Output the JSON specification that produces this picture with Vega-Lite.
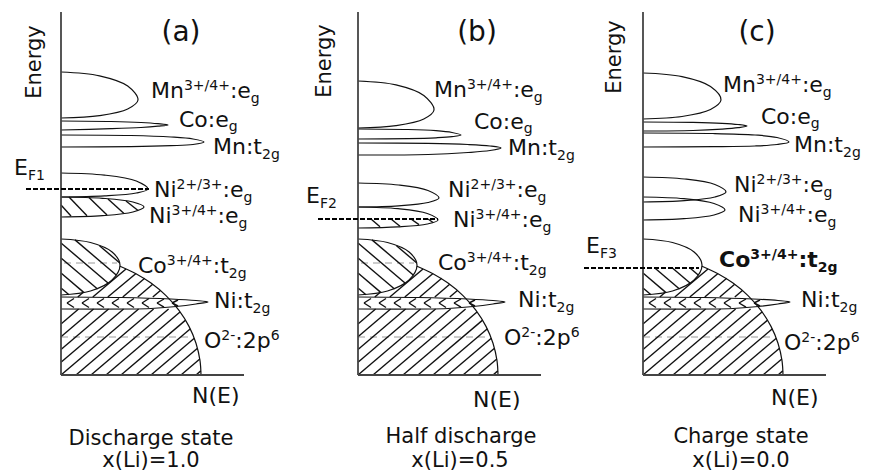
{
"$schema": "https://vega.github.io/schema/vega-lite/v6.json",
"padding": 0,
"autosize": {"type": "pad"},
"background": "white",
"config": {"view": {"stroke": null}, "text": {"font": "DejaVu Sans", "color": "#111"}},
"data": {"values": [
{"p":["a"],"k":"Z","n":-60,"e":0},{"p":["a"],"k":"Z","n":230,"e":0},
{"p":["b"],"k":"Z","n":-67,"e":0},{"p":["b"],"k":"Z","n":223,"e":0},
{"p":["c"],"k":"Z","n":-62,"e":0},{"p":["c"],"k":"Z","n":228,"e":0},

{"p":["a","b","c"],"k":"A","n":0,"e":0,"n2":0,"e2":363},
{"p":["a","b","c"],"k":"A","n":0,"e":0,"n2":183,"e2":0},

{"p":["a"],"k":"L","id":"mn","o":1,"n":0,"e":303},{"p":["a"],"k":"L","id":"mn","o":2,"n":38.5,"e":299.2},{"p":["a"],"k":"L","id":"mn","o":3,"n":66.7,"e":289},{"p":["a"],"k":"L","id":"mn","o":4,"n":77,"e":275},{"p":["a"],"k":"L","id":"mn","o":5,"n":66.7,"e":266},{"p":["a"],"k":"L","id":"mn","o":6,"n":38.5,"e":259.4},{"p":["a"],"k":"L","id":"mn","o":7,"n":0,"e":257},
{"p":["a"],"k":"L","id":"coe","o":1,"n":0,"e":254},{"p":["a"],"k":"L","id":"coe","o":2,"n":50,"e":253.5},{"p":["a"],"k":"L","id":"coe","o":3,"n":80,"e":252.5},{"p":["a"],"k":"L","id":"coe","o":4,"n":97,"e":251.3},{"p":["a"],"k":"L","id":"coe","o":5,"n":107,"e":250},{"p":["a"],"k":"L","id":"coe","o":6,"n":97,"e":248.8},{"p":["a"],"k":"L","id":"coe","o":7,"n":80,"e":247.5},{"p":["a"],"k":"L","id":"coe","o":8,"n":50,"e":246.3},{"p":["a"],"k":"L","id":"coe","o":9,"n":0,"e":245},
{"p":["a"],"k":"L","id":"mnt","o":1,"n":0,"e":240},{"p":["a"],"k":"L","id":"mnt","o":2,"n":70,"e":239.5},{"p":["a"],"k":"L","id":"mnt","o":3,"n":110,"e":238},{"p":["a"],"k":"L","id":"mnt","o":4,"n":132,"e":236},{"p":["a"],"k":"L","id":"mnt","o":5,"n":143,"e":233},{"p":["a"],"k":"L","id":"mnt","o":6,"n":132,"e":230.5},{"p":["a"],"k":"L","id":"mnt","o":7,"n":110,"e":229.3},{"p":["a"],"k":"L","id":"mnt","o":8,"n":70,"e":228.3},{"p":["a"],"k":"L","id":"mnt","o":9,"n":0,"e":228},
{"p":["a"],"k":"L","id":"ni2","o":1,"n":0,"e":202},{"p":["a"],"k":"L","id":"ni2","o":2,"n":43.5,"e":199.9},{"p":["a"],"k":"L","id":"ni2","o":3,"n":75.3,"e":194},{"p":["a"],"k":"L","id":"ni2","o":4,"n":87,"e":186},{"p":["a"],"k":"L","id":"ni2","o":5,"n":75.3,"e":182},{"p":["a"],"k":"L","id":"ni2","o":6,"n":43.5,"e":179.1},{"p":["a"],"k":"L","id":"ni2","o":7,"n":0,"e":178},
{"p":["a"],"k":"L","id":"ni3","o":1,"n":0,"e":178},{"p":["a"],"k":"L","id":"ni3","o":2,"n":41.5,"e":176.7},{"p":["a"],"k":"L","id":"ni3","o":3,"n":71.9,"e":173},{"p":["a"],"k":"L","id":"ni3","o":4,"n":83,"e":168},{"p":["a"],"k":"L","id":"ni3","o":5,"n":71.9,"e":163},{"p":["a"],"k":"L","id":"ni3","o":6,"n":41.5,"e":159.3},{"p":["a"],"k":"L","id":"ni3","o":7,"n":0,"e":158},

{"p":["b"],"k":"L","id":"mn","o":1,"n":0,"e":294},{"p":["b"],"k":"L","id":"mn","o":2,"n":38,"e":290.1},{"p":["b"],"k":"L","id":"mn","o":3,"n":65.8,"e":279.5},{"p":["b"],"k":"L","id":"mn","o":4,"n":76,"e":265},{"p":["b"],"k":"L","id":"mn","o":5,"n":65.8,"e":256},{"p":["b"],"k":"L","id":"mn","o":6,"n":38,"e":249.4},{"p":["b"],"k":"L","id":"mn","o":7,"n":0,"e":247},
{"p":["b"],"k":"L","id":"coe","o":1,"n":0,"e":246},{"p":["b"],"k":"L","id":"coe","o":2,"n":50,"e":245.5},{"p":["b"],"k":"L","id":"coe","o":3,"n":78,"e":244.3},{"p":["b"],"k":"L","id":"coe","o":4,"n":94,"e":242.5},{"p":["b"],"k":"L","id":"coe","o":5,"n":103,"e":240},{"p":["b"],"k":"L","id":"coe","o":6,"n":94,"e":238.3},{"p":["b"],"k":"L","id":"coe","o":7,"n":78,"e":237.2},{"p":["b"],"k":"L","id":"coe","o":8,"n":50,"e":236.4},{"p":["b"],"k":"L","id":"coe","o":9,"n":0,"e":236},
{"p":["b"],"k":"L","id":"mnt","o":1,"n":0,"e":232},{"p":["b"],"k":"L","id":"mnt","o":2,"n":70,"e":231.6},{"p":["b"],"k":"L","id":"mnt","o":3,"n":110,"e":230.5},{"p":["b"],"k":"L","id":"mnt","o":4,"n":132,"e":229},{"p":["b"],"k":"L","id":"mnt","o":5,"n":143,"e":227},{"p":["b"],"k":"L","id":"mnt","o":6,"n":132,"e":224.5},{"p":["b"],"k":"L","id":"mnt","o":7,"n":110,"e":222.5},{"p":["b"],"k":"L","id":"mnt","o":8,"n":70,"e":220.5},{"p":["b"],"k":"L","id":"mnt","o":9,"n":0,"e":220},
{"p":["b"],"k":"L","id":"ni2","o":1,"n":0,"e":192},{"p":["b"],"k":"L","id":"ni2","o":2,"n":40.5,"e":190},{"p":["b"],"k":"L","id":"ni2","o":3,"n":70,"e":184.5},{"p":["b"],"k":"L","id":"ni2","o":4,"n":81,"e":177},{"p":["b"],"k":"L","id":"ni2","o":5,"n":70,"e":172.5},{"p":["b"],"k":"L","id":"ni2","o":6,"n":40.5,"e":169.2},{"p":["b"],"k":"L","id":"ni2","o":7,"n":0,"e":168},
{"p":["b"],"k":"L","id":"ni3","o":1,"n":0,"e":168},{"p":["b"],"k":"L","id":"ni3","o":2,"n":40,"e":166.3},{"p":["b"],"k":"L","id":"ni3","o":3,"n":69.3,"e":161.5},{"p":["b"],"k":"L","id":"ni3","o":4,"n":80,"e":155},{"p":["b"],"k":"L","id":"ni3","o":5,"n":69.3,"e":151},{"p":["b"],"k":"L","id":"ni3","o":6,"n":40,"e":148.1},{"p":["b"],"k":"L","id":"ni3","o":7,"n":0,"e":147},

{"p":["c"],"k":"L","id":"mn","o":1,"n":0,"e":302},{"p":["c"],"k":"L","id":"mn","o":2,"n":39,"e":298.4},{"p":["c"],"k":"L","id":"mn","o":3,"n":67.5,"e":288.5},{"p":["c"],"k":"L","id":"mn","o":4,"n":78,"e":275},{"p":["c"],"k":"L","id":"mn","o":5,"n":67.5,"e":265.5},{"p":["c"],"k":"L","id":"mn","o":6,"n":39,"e":258.5},{"p":["c"],"k":"L","id":"mn","o":7,"n":0,"e":256},
{"p":["c"],"k":"L","id":"coe","o":1,"n":0,"e":253},{"p":["c"],"k":"L","id":"coe","o":2,"n":50,"e":252.6},{"p":["c"],"k":"L","id":"coe","o":3,"n":79,"e":251.7},{"p":["c"],"k":"L","id":"coe","o":4,"n":95,"e":250.5},{"p":["c"],"k":"L","id":"coe","o":5,"n":104,"e":249},{"p":["c"],"k":"L","id":"coe","o":6,"n":95,"e":247.3},{"p":["c"],"k":"L","id":"coe","o":7,"n":79,"e":245.9},{"p":["c"],"k":"L","id":"coe","o":8,"n":50,"e":244.5},{"p":["c"],"k":"L","id":"coe","o":9,"n":0,"e":244},
{"p":["c"],"k":"L","id":"mnt","o":1,"n":0,"e":242},{"p":["c"],"k":"L","id":"mnt","o":2,"n":70,"e":241.5},{"p":["c"],"k":"L","id":"mnt","o":3,"n":112,"e":240},{"p":["c"],"k":"L","id":"mnt","o":4,"n":134,"e":237.5},{"p":["c"],"k":"L","id":"mnt","o":5,"n":146,"e":233},{"p":["c"],"k":"L","id":"mnt","o":6,"n":134,"e":230.5},{"p":["c"],"k":"L","id":"mnt","o":7,"n":112,"e":229},{"p":["c"],"k":"L","id":"mnt","o":8,"n":70,"e":228.3},{"p":["c"],"k":"L","id":"mnt","o":9,"n":0,"e":228},
{"p":["c"],"k":"L","id":"ni2","o":1,"n":0,"e":198},{"p":["c"],"k":"L","id":"ni2","o":2,"n":41.5,"e":196},{"p":["c"],"k":"L","id":"ni2","o":3,"n":71.9,"e":190.5},{"p":["c"],"k":"L","id":"ni2","o":4,"n":83,"e":183},{"p":["c"],"k":"L","id":"ni2","o":5,"n":71.9,"e":178},{"p":["c"],"k":"L","id":"ni2","o":6,"n":41.5,"e":174.3},{"p":["c"],"k":"L","id":"ni2","o":7,"n":0,"e":173},
{"p":["c"],"k":"L","id":"ni3","o":1,"n":0,"e":178},{"p":["c"],"k":"L","id":"ni3","o":2,"n":41,"e":176.3},{"p":["c"],"k":"L","id":"ni3","o":3,"n":71,"e":171.5},{"p":["c"],"k":"L","id":"ni3","o":4,"n":82,"e":165},{"p":["c"],"k":"L","id":"ni3","o":5,"n":71,"e":160},{"p":["c"],"k":"L","id":"ni3","o":6,"n":41,"e":156.3},{"p":["c"],"k":"L","id":"ni3","o":7,"n":0,"e":155},

{"p":["a","b","c"],"k":"L","id":"co","o":1,"n":0,"e":136},{"p":["a","b","c"],"k":"L","id":"co","o":2,"n":29.5,"e":132.5},{"p":["a","b","c"],"k":"L","id":"co","o":3,"n":51.1,"e":123},{"p":["a","b","c"],"k":"L","id":"co","o":4,"n":59,"e":110},{"p":["a","b","c"],"k":"L","id":"co","o":5,"n":51.1,"e":95},{"p":["a","b","c"],"k":"L","id":"co","o":6,"n":29.5,"e":84},{"p":["a","b","c"],"k":"L","id":"co","o":7,"n":0,"e":80},
{"p":["a","b","c"],"k":"L","id":"o2p","o":1,"n":59,"e":108.8},{"p":["a","b","c"],"k":"L","id":"o2p","o":2,"n":75,"e":101.3},{"p":["a","b","c"],"k":"L","id":"o2p","o":3,"n":90,"e":91.9},{"p":["a","b","c"],"k":"L","id":"o2p","o":4,"n":105,"e":79.4},{"p":["a","b","c"],"k":"L","id":"o2p","o":5,"n":118,"e":64.6},{"p":["a","b","c"],"k":"L","id":"o2p","o":6,"n":128,"e":48.6},{"p":["a","b","c"],"k":"L","id":"o2p","o":7,"n":135,"e":31.8},{"p":["a","b","c"],"k":"L","id":"o2p","o":8,"n":139,"e":14.3},{"p":["a","b","c"],"k":"L","id":"o2p","o":9,"n":140,"e":0},
{"p":["a","b","c"],"k":"L","id":"nit","o":1,"n":0,"e":78},{"p":["a","b","c"],"k":"L","id":"nit","o":2,"n":60,"e":77.5},{"p":["a","b","c"],"k":"L","id":"nit","o":3,"n":110,"e":76},{"p":["a","b","c"],"k":"L","id":"nit","o":4,"n":135,"e":74.5},{"p":["a","b","c"],"k":"L","id":"nit","o":5,"n":147,"e":73},{"p":["a","b","c"],"k":"L","id":"nit","o":6,"n":135,"e":71},{"p":["a","b","c"],"k":"L","id":"nit","o":7,"n":115,"e":68.5},{"p":["a","b","c"],"k":"L","id":"nit","o":8,"n":90,"e":66.5},{"p":["a","b","c"],"k":"L","id":"nit","o":9,"n":0,"e":66},

{"p":["a","b","c"],"k":"H","n":0,"e":51,"n2":17.6,"e2":66},{"p":["a","b","c"],"k":"H","n":0,"e":38.25,"n2":32.6,"e2":66},{"p":["a","b","c"],"k":"H","n":0,"e":25.5,"n2":47.6,"e2":66},{"p":["a","b","c"],"k":"H","n":0,"e":12.75,"n2":62.6,"e2":66},{"p":["a","b","c"],"k":"H","n":0,"e":0,"n2":77.6,"e2":66},{"p":["a","b","c"],"k":"H","n":15,"e":0,"n2":92.6,"e2":66},{"p":["a","b","c"],"k":"H","n":30,"e":0,"n2":107.6,"e2":66},{"p":["a","b","c"],"k":"H","n":45,"e":0,"n2":119,"e2":63},{"p":["a","b","c"],"k":"H","n":60,"e":0,"n2":124.6,"e2":54.9},{"p":["a","b","c"],"k":"H","n":75,"e":0,"n2":129.4,"e2":46.2},{"p":["a","b","c"],"k":"H","n":90,"e":0,"n2":133.3,"e2":36.8},{"p":["a","b","c"],"k":"H","n":105,"e":0,"n2":136.5,"e2":26.8},{"p":["a","b","c"],"k":"H","n":120,"e":0,"n2":138.8,"e2":16},{"p":["a","b","c"],"k":"H","n":135,"e":0,"n2":139.8,"e2":4.1},
{"p":["a","b","c"],"k":"H","n":16.8,"e":78,"n2":22,"e2":82.5},{"p":["a","b","c"],"k":"H","n":31.8,"e":78,"n2":65,"e2":106},{"p":["a","b","c"],"k":"H","n":46.8,"e":78,"n2":75,"e2":101.5},{"p":["a","b","c"],"k":"H","n":61.8,"e":78,"n2":83.7,"e2":96.7},{"p":["a","b","c"],"k":"H","n":76.8,"e":78,"n2":91.7,"e2":90.7},{"p":["a","b","c"],"k":"H","n":91.8,"e":78,"n2":99.4,"e2":84.5},
{"p":["a","b","c"],"k":"H","n":13,"e":76.5,"n2":6,"e2":72},{"p":["a","b","c"],"k":"H","n":6,"e":72,"n2":13,"e2":67.5},
{"p":["a","b","c"],"k":"H","n":28,"e":76.5,"n2":21,"e2":72},{"p":["a","b","c"],"k":"H","n":21,"e":72,"n2":28,"e2":67.5},
{"p":["a","b","c"],"k":"H","n":43,"e":76.5,"n2":36,"e2":72},{"p":["a","b","c"],"k":"H","n":36,"e":72,"n2":43,"e2":67.5},
{"p":["a","b","c"],"k":"H","n":58,"e":76.5,"n2":51,"e2":72},{"p":["a","b","c"],"k":"H","n":51,"e":72,"n2":58,"e2":67.5},
{"p":["a","b","c"],"k":"H","n":73,"e":76.5,"n2":66,"e2":72},{"p":["a","b","c"],"k":"H","n":66,"e":72,"n2":73,"e2":67.5},
{"p":["a","b","c"],"k":"H","n":88,"e":76.5,"n2":81,"e2":72},{"p":["a","b","c"],"k":"H","n":81,"e":72,"n2":88,"e2":67.5},
{"p":["a","b","c"],"k":"H","n":103,"e":76,"n2":96,"e2":72},{"p":["a","b","c"],"k":"H","n":96,"e":72,"n2":103,"e2":67.8},
{"p":["a","b","c"],"k":"H","n":117,"e":75,"n2":111,"e2":72},{"p":["a","b","c"],"k":"H","n":111,"e":72,"n2":117,"e2":69},

{"p":["a","b"],"k":"H","n":0,"e":87,"n2":8,"e2":80.3},{"p":["a","b"],"k":"H","n":0,"e":102,"n2":23,"e2":82.4},{"p":["a","b"],"k":"H","n":0,"e":117,"n2":36.5,"e2":86},{"p":["a","b"],"k":"H","n":0,"e":132,"n2":47,"e2":92},{"p":["a","b"],"k":"H","n":14,"e":135.1,"n2":55.5,"e2":99.8},{"p":["a","b"],"k":"H","n":38.5,"e":129.3,"n2":58.8,"e2":112},
{"p":["c"],"k":"H","n":0,"e":87,"n2":8,"e2":80.3},{"p":["c"],"k":"H","n":0,"e":102,"n2":23,"e2":82.4},{"p":["c"],"k":"H","n":11.8,"e":107,"n2":36.5,"e2":86},{"p":["c"],"k":"H","n":29.4,"e":107,"n2":47,"e2":92},{"p":["c"],"k":"H","n":47,"e":107,"n2":55.5,"e2":99.8},
{"p":["a"],"k":"H","n":0,"e":170,"n2":10,"e2":159},{"p":["a"],"k":"H","n":8,"e":178,"n2":26,"e2":159.3},{"p":["a"],"k":"H","n":28,"e":177.5,"n2":46,"e2":160},{"p":["a"],"k":"H","n":47,"e":176,"n2":63,"e2":161.5},{"p":["a"],"k":"H","n":65,"e":174,"n2":77,"e2":164.5},
{"p":["b"],"k":"H","n":13,"e":156,"n2":22,"e2":148.2},{"p":["b"],"k":"H","n":33,"e":156,"n2":42,"e2":148.8},{"p":["b"],"k":"H","n":53,"e":156,"n2":61,"e2":150.4},{"p":["b"],"k":"H","n":70,"e":156,"n2":75,"e2":152.5},

{"p":["a","b","c"],"k":"G","n":0,"e":38,"n2":128,"e2":38},{"p":["a","b"],"k":"G","n":3,"e":112,"n2":56,"e2":112},

{"p":["a"],"k":"D","n":-35,"e":186,"n2":88,"e2":186},
{"p":["b"],"k":"D","n":-40,"e":156,"n2":80,"e2":156},
{"p":["c"],"k":"D","n":-59,"e":107,"n2":56,"e2":107},

{"p":["a"],"k":"T","t":"Mn","n":90,"e":277},{"p":["a"],"k":"S","t":"3+/4+","n":122.9,"e":285},{"p":["a"],"k":"T","t":":e","n":168.9,"e":277},{"p":["a"],"k":"S","t":"g","n":189.8,"e":272},
{"p":["a"],"k":"T","t":"Co:e","n":118,"e":248},{"p":["a"],"k":"S","t":"g","n":167.7,"e":244},
{"p":["a"],"k":"T","t":"Mn:t","n":152,"e":221},{"p":["a"],"k":"S","t":"2g","n":201,"e":216},
{"p":["a"],"k":"T","t":"Ni","n":93,"e":178},{"p":["a"],"k":"S","t":"2+/3+","n":115.6,"e":186},{"p":["a"],"k":"T","t":":e","n":161.6,"e":178},{"p":["a"],"k":"S","t":"g","n":182.5,"e":173},
{"p":["a"],"k":"T","t":"Ni","n":88,"e":152},{"p":["a"],"k":"S","t":"3+/4+","n":110.6,"e":160},{"p":["a"],"k":"T","t":":e","n":156.6,"e":152},{"p":["a"],"k":"S","t":"g","n":177.5,"e":147},
{"p":["a"],"k":"T","t":"Co","n":77,"e":102},{"p":["a"],"k":"S","t":"3+/4+","n":105.8,"e":110},{"p":["a"],"k":"T","t":":t","n":151.8,"e":102},{"p":["a"],"k":"S","t":"2g","n":167.8,"e":97},
{"p":["a"],"k":"T","t":"Ni:t","n":153,"e":67},{"p":["a"],"k":"S","t":"2g","n":191.6,"e":62},
{"p":["a"],"k":"T","t":"O","n":143,"e":27},{"p":["a"],"k":"S","t":"2-","n":160.3,"e":35},{"p":["a"],"k":"T","t":":2p","n":174.3,"e":27},{"p":["a"],"k":"S","t":"6","n":209.7,"e":35},
{"p":["a"],"k":"T","t":"E","n":-47,"e":200},{"p":["a"],"k":"S","t":"F1","n":-33.1,"e":195},
{"p":["a"],"k":"T","t":"N(E)","n":131,"e":-28},
{"p":["a"],"k":"C","t":"Discharge state","n":90,"e":-69.5},{"p":["a"],"k":"C","t":"x(Li)=1.0","n":90,"e":-91.5},
{"p":["a"],"k":"R","t":"Energy","n":-20,"e":313},
{"p":["a"],"k":"P","t":"(a)","n":120,"e":334},

{"p":["b"],"k":"T","t":"Mn","n":76,"e":278},{"p":["b"],"k":"S","t":"3+/4+","n":108.9,"e":286},{"p":["b"],"k":"T","t":":e","n":154.9,"e":278},{"p":["b"],"k":"S","t":"g","n":175.8,"e":273},
{"p":["b"],"k":"T","t":"Co:e","n":116,"e":246},{"p":["b"],"k":"S","t":"g","n":165.7,"e":242},
{"p":["b"],"k":"T","t":"Mn:t","n":150,"e":220},{"p":["b"],"k":"S","t":"2g","n":199,"e":215},
{"p":["b"],"k":"T","t":"Ni","n":90,"e":178},{"p":["b"],"k":"S","t":"2+/3+","n":112.6,"e":186},{"p":["b"],"k":"T","t":":e","n":158.6,"e":178},{"p":["b"],"k":"S","t":"g","n":179.5,"e":173},
{"p":["b"],"k":"T","t":"Ni","n":95,"e":148},{"p":["b"],"k":"S","t":"3+/4+","n":117.6,"e":156},{"p":["b"],"k":"T","t":":e","n":163.6,"e":148},{"p":["b"],"k":"S","t":"g","n":184.5,"e":143},
{"p":["b"],"k":"T","t":"Co","n":80,"e":105},{"p":["b"],"k":"S","t":"3+/4+","n":108.8,"e":113},{"p":["b"],"k":"T","t":":t","n":154.8,"e":105},{"p":["b"],"k":"S","t":"2g","n":170.8,"e":100},
{"p":["b"],"k":"T","t":"Ni:t","n":160,"e":68},{"p":["b"],"k":"S","t":"2g","n":198.6,"e":63},
{"p":["b"],"k":"T","t":"O","n":146,"e":30},{"p":["b"],"k":"S","t":"2-","n":163.3,"e":38},{"p":["b"],"k":"T","t":":2p","n":177.3,"e":30},{"p":["b"],"k":"S","t":"6","n":212.7,"e":38},
{"p":["b"],"k":"T","t":"E","n":-52,"e":172},{"p":["b"],"k":"S","t":"F2","n":-38.1,"e":167},
{"p":["b"],"k":"T","t":"N(E)","n":115,"e":-32},
{"p":["b"],"k":"C","t":"Half discharge","n":103,"e":-68},{"p":["b"],"k":"C","t":"x(Li)=0.5","n":102,"e":-91.5},
{"p":["b"],"k":"R","t":"Energy","n":-27,"e":314},
{"p":["b"],"k":"P","t":"(b)","n":119,"e":334},

{"p":["c"],"k":"T","t":"Mn","n":80,"e":283},{"p":["c"],"k":"S","t":"3+/4+","n":112.9,"e":291},{"p":["c"],"k":"T","t":":e","n":158.9,"e":283},{"p":["c"],"k":"S","t":"g","n":179.8,"e":278},
{"p":["c"],"k":"T","t":"Co:e","n":118,"e":251},{"p":["c"],"k":"S","t":"g","n":167.7,"e":247},
{"p":["c"],"k":"T","t":"Mn:t","n":151,"e":223},{"p":["c"],"k":"S","t":"2g","n":200,"e":218},
{"p":["c"],"k":"T","t":"Ni","n":91,"e":183},{"p":["c"],"k":"S","t":"2+/3+","n":113.6,"e":191},{"p":["c"],"k":"T","t":":e","n":159.6,"e":183},{"p":["c"],"k":"S","t":"g","n":180.5,"e":178},
{"p":["c"],"k":"T","t":"Ni","n":95,"e":153},{"p":["c"],"k":"S","t":"3+/4+","n":117.6,"e":161},{"p":["c"],"k":"T","t":":e","n":163.6,"e":153},{"p":["c"],"k":"S","t":"g","n":184.5,"e":148},
{"p":["c"],"k":"TB","t":"Co","n":76,"e":108},{"p":["c"],"k":"SB","t":"3+/4+","n":107.3,"e":116},{"p":["c"],"k":"TB","t":":t","n":155.4,"e":108},{"p":["c"],"k":"SB","t":"2g","n":174.7,"e":103},
{"p":["c"],"k":"T","t":"Ni:t","n":158,"e":68},{"p":["c"],"k":"S","t":"2g","n":196.6,"e":63},
{"p":["c"],"k":"T","t":"O","n":141,"e":25},{"p":["c"],"k":"S","t":"2-","n":158.3,"e":33},{"p":["c"],"k":"T","t":":2p","n":172.3,"e":25},{"p":["c"],"k":"S","t":"6","n":207.7,"e":33},
{"p":["c"],"k":"T","t":"E","n":-57,"e":122},{"p":["c"],"k":"S","t":"F3","n":-43.1,"e":117},
{"p":["c"],"k":"T","t":"N(E)","n":128,"e":-30},
{"p":["c"],"k":"C","t":"Charge state","n":98,"e":-68},{"p":["c"],"k":"C","t":"x(Li)=0.0","n":98,"e":-91.5},
{"p":["c"],"k":"R","t":"Energy","n":-22,"e":318},
{"p":["c"],"k":"P","t":"(c)","n":114,"e":334}
]},
"transform": [{"flatten": ["p"]}],
"facet": {"column": {"field": "p", "type": "nominal", "header": {"title": null, "labels": false}}},
"spacing": 0,
"bounds": "flush",
"resolve": {"scale": {"x": "independent"}},
"spec": {
  "width": 290,
  "height": 471,
  "encoding": {
    "x": {"field": "n", "type": "quantitative", "scale": {"zero": false, "nice": false}, "axis": null},
    "y": {"field": "e", "type": "quantitative", "scale": {"domain": [-96, 375], "nice": false, "zero": false}, "axis": null}
  },
  "layer": [
    {"transform": [{"filter": "datum.k == 'Z'"}], "mark": {"type": "point", "opacity": 0, "size": 1}},
    {"transform": [{"filter": "datum.k == 'G'"}], "mark": {"type": "rule", "stroke": "#9a9a9a", "strokeWidth": 1, "strokeDash": [7, 5]}, "encoding": {"x2": {"field": "n2"}, "y2": {"field": "e2"}}},
    {"transform": [{"filter": "datum.k == 'H'"}], "mark": {"type": "rule", "stroke": "#111", "strokeWidth": 1.4}, "encoding": {"x2": {"field": "n2"}, "y2": {"field": "e2"}}},
    {"transform": [{"filter": "datum.k == 'L'"}], "mark": {"type": "line", "interpolate": "catmull-rom", "stroke": "#111", "strokeWidth": 1.2}, "encoding": {"detail": {"field": "id"}, "order": {"field": "o", "type": "quantitative"}}},
    {"transform": [{"filter": "datum.k == 'A'"}], "mark": {"type": "rule", "stroke": "#444", "strokeWidth": 1.8}, "encoding": {"x2": {"field": "n2"}, "y2": {"field": "e2"}}},
    {"transform": [{"filter": "datum.k == 'D'"}], "mark": {"type": "rule", "stroke": "#000", "strokeWidth": 2.2, "strokeDash": [5, 2]}, "encoding": {"x2": {"field": "n2"}, "y2": {"field": "e2"}}},
    {"transform": [{"filter": "datum.k == 'T'"}], "mark": {"type": "text", "align": "left", "baseline": "alphabetic", "fontSize": 22}, "encoding": {"text": {"field": "t"}}},
    {"transform": [{"filter": "datum.k == 'S'"}], "mark": {"type": "text", "align": "left", "baseline": "alphabetic", "fontSize": 14}, "encoding": {"text": {"field": "t"}}},
    {"transform": [{"filter": "datum.k == 'TB'"}], "mark": {"type": "text", "align": "left", "baseline": "alphabetic", "fontSize": 22, "fontWeight": "bold"}, "encoding": {"text": {"field": "t"}}},
    {"transform": [{"filter": "datum.k == 'SB'"}], "mark": {"type": "text", "align": "left", "baseline": "alphabetic", "fontSize": 14, "fontWeight": "bold"}, "encoding": {"text": {"field": "t"}}},
    {"transform": [{"filter": "datum.k == 'C'"}], "mark": {"type": "text", "align": "center", "baseline": "alphabetic", "fontSize": 21}, "encoding": {"text": {"field": "t"}}},
    {"transform": [{"filter": "datum.k == 'R'"}], "mark": {"type": "text", "align": "center", "baseline": "alphabetic", "fontSize": 21, "angle": 270}, "encoding": {"text": {"field": "t"}}},
    {"transform": [{"filter": "datum.k == 'P'"}], "mark": {"type": "text", "align": "center", "baseline": "alphabetic", "fontSize": 28}, "encoding": {"text": {"field": "t"}}}
  ]
}
}
